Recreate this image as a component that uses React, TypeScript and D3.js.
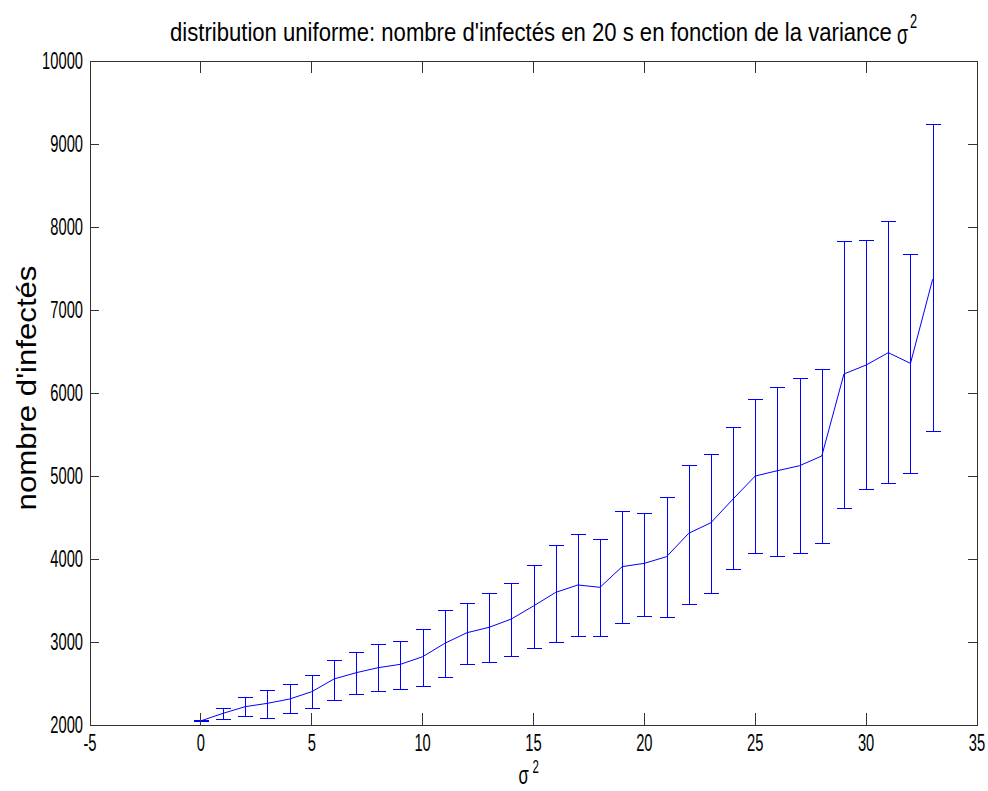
import React, { useLayoutEffect, useRef, useState } from 'react';
import * as d3 from 'd3';

// data (sigma^2 -> infected count, error bar bounds)
const sigma2 = [0, 1, 2, 3, 4, 5, 6, 7, 8, 9, 10, 11, 12, 13, 14, 15, 16, 17, 18, 19, 20, 21, 22, 23, 24, 25, 26, 27, 28, 29, 30, 31, 32, 33];
const means = [2050, 2141, 2221, 2261, 2313, 2401, 2554, 2630, 2691, 2731, 2823, 2984, 3112, 3177, 3277, 3434, 3598, 3687, 3659, 3908, 3948, 4028, 4310, 4437, 4723, 5000, 5064, 5124, 5241, 6229, 6337, 6486, 6357, 7370];
const upper = [2055, 2205, 2337, 2418, 2498, 2598, 2783, 2883, 2980, 3016, 3160, 3386, 3474, 3594, 3714, 3931, 4172, 4301, 4245, 4575, 4558, 4747, 5130, 5270, 5590, 5928, 6069, 6177, 6293, 7835, 7847, 8072, 7678, 9241];
const lower = [2045, 2076, 2112, 2088, 2141, 2209, 2301, 2377, 2406, 2430, 2470, 2574, 2731, 2755, 2835, 2932, 3004, 3072, 3072, 3229, 3317, 3305, 3462, 3594, 3883, 4069, 4040, 4069, 4197, 4618, 4839, 4920, 5040, 5546];

const xTicks = [-5, 0, 5, 10, 15, 20, 25, 30, 35];
const yTicks = [2000, 3000, 4000, 5000, 6000, 7000, 8000, 9000, 10000];

const W = 988;
const H = 791;
const LEFT = 90, RIGHT = 977, TOP = 61, BOTTOM = 725;
const FONT = 'Liberation Sans, Arial, sans-serif';
const BLUE = '#0000ff';
const SX = 0.64; // glyphs in the reference are narrow

// text squeezed along its length to a target width
function FitText({ x, y, width, size, rotate = 0, anchor = 'start', children }: any) {
  const ref = useRef<SVGTextElement>(null);
  const [k, setK] = useState(1);
  useLayoutEffect(() => {
    if (ref.current) {
      const len = ref.current.getComputedTextLength();
      if (len > 0) setK(width / len);
    }
  }, [width, children]);
  return (
    <text
      ref={ref}
      transform={`translate(${x},${y}) rotate(${rotate}) scale(${k},1)`}
      fontSize={size}
      textAnchor={anchor}
    >
      {children}
    </text>
  );
}

export default function App() {
  const x = d3.scaleLinear().domain([-5, 35]).range([LEFT, RIGHT]);
  const y = d3.scaleLinear().domain([2000, 10000]).range([BOTTOM, TOP]);

  const pts = sigma2.map((s, i) => ({ s, m: means[i], lo: lower[i], hi: upper[i] }));
  const line = d3.line<any>().x(d => x(d.s)).y(d => y(d.m));
  const cap = 7.5;

  // error bars as a single path
  const bars = pts
    .map(d => {
      const cx = Math.round(x(d.s)) + 0.5;
      const lo = Math.round(y(d.lo)) + 0.5;
      const hi = Math.round(y(d.hi)) + 0.5;
      return `M${cx},${lo}V${hi}M${cx - cap},${lo}H${cx + cap}M${cx - cap},${hi}H${cx + cap}`;
    })
    .join('');

  return (
    <svg width={W} height={H} style={{ position: 'absolute', left: 0, top: 0, background: '#fff' }}>
      <rect x={0} y={0} width={W} height={H} fill="#fff" />

      <path d={bars} fill="none" stroke={BLUE} strokeWidth={1} />
      <path d={line(pts) || ''} fill="none" stroke={BLUE} strokeWidth={1} />

      {/* axes box and ticks */}
      <g stroke="#333" strokeWidth={1} shapeRendering="crispEdges">
        <rect x={LEFT} y={TOP} width={RIGHT - LEFT} height={BOTTOM - TOP} fill="none" />
        {xTicks.map(t => (
          <g key={'x' + t}>
            <line x1={x(t)} x2={x(t)} y1={BOTTOM} y2={BOTTOM - 12} />
            <line x1={x(t)} x2={x(t)} y1={TOP} y2={TOP + 12} />
          </g>
        ))}
        {yTicks.map(t => (
          <g key={'y' + t}>
            <line x1={LEFT} x2={LEFT + 9} y1={y(t)} y2={y(t)} />
            <line x1={RIGHT} x2={RIGHT - 9} y1={y(t)} y2={y(t)} />
          </g>
        ))}
      </g>

      {/* tick labels */}
      <g fontFamily={FONT} fontSize={23} fill="#000">
        {xTicks.map(t => (
          <text key={'xl' + t} transform={`translate(${x(t)},751) scale(${SX},1)`} textAnchor="middle">{t}</text>
        ))}
        {yTicks.map(t => (
          <text key={'yl' + t} transform={`translate(83,${y(t) + 8}) scale(${SX},1)`} textAnchor="end">{t}</text>
        ))}
      </g>

      {/* title */}
      <g fontFamily={FONT} fill="#000">
        <FitText x={170} y={41} width={722} size={26}>
          distribution uniforme: nombre d'infectés en 20 s en fonction de la variance
        </FitText>
        <text transform={`translate(897,44) scale(${SX},1)`} fontSize={28}>σ</text>
        <text transform={`translate(910,28) scale(${SX},1)`} fontSize={20}>2</text>
      </g>

      {/* axis labels */}
      <g fontFamily={FONT} fill="#000">
        <text transform={`translate(${(LEFT + RIGHT) / 2 - 15},784) scale(${SX},1)`} fontSize={26}>σ</text>
        <text transform={`translate(${(LEFT + RIGHT) / 2 - 1},773) scale(${SX},1)`} fontSize={18}>2</text>
        <FitText x={36} y={388} width={245} size={28} rotate={-90} anchor="middle">
          nombre d'infectés
        </FitText>
      </g>
    </svg>
  );
}
